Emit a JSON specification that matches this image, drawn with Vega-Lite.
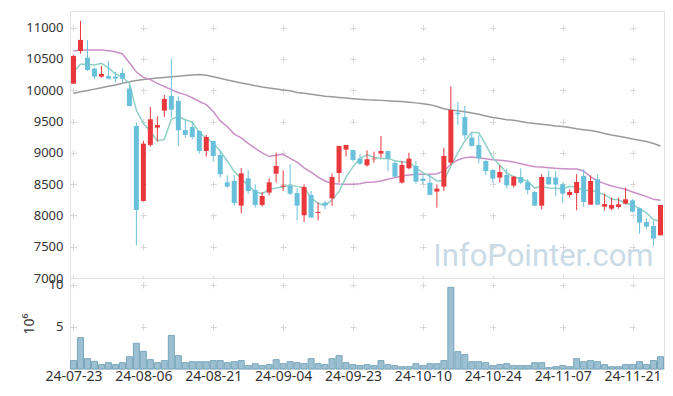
{
  "$schema": "https://vega.github.io/schema/vega-lite/v6.json",
  "padding": {"left": 21, "top": 10, "right": 10, "bottom": 2},
  "spacing": 0,
  "bounds": "flush",
  "background": "white",
  "config": {
    "view": {"stroke": "#e2e2e2", "strokeWidth": 1},
    "font": "Noto Sans",
    "axis": {"labelFont": "Noto Sans", "labelColor": "#333333", "titleFont": "Noto Sans", "titleColor": "#333333", "domain": false, "ticks": false, "gridColor": "#d8d8d8", "gridWidth": 1},
    "axisY": {"values": [7000,7500,8000,8500,9000,9500,10000,10500,11000], "format": "d", "labelFontSize": 13, "labelPadding": 7, "grid": true, "gridDash": [6, 63.88], "gridDashOffset": 69.39, "title": null},
    "scale": {"zero": false}
  },
  "data": {"values": [
    {"d":"24-07-23","o":10105,"h":10560,"l":10100,"c":10548,"v":1.0,"m5":10292,"m20":10628,"m120":9951},
    {"d":"24-07-24","o":10628,"h":11107,"l":10585,"c":10804,"v":3.73,"m5":10415,"m20":10644,"m120":9975},
    {"d":"24-07-25","o":10521,"h":10798,"l":10308,"c":10324,"v":1.23,"m5":10415,"m20":10644,"m120":9995},
    {"d":"24-07-26","o":10345,"h":10360,"l":10175,"c":10218,"v":0.91,"m5":10404,"m20":10644,"m120":10018},
    {"d":"24-07-29","o":10218,"h":10388,"l":10202,"c":10260,"v":0.52,"m5":10431,"m20":10644,"m120":10040},
    {"d":"24-07-30","o":10228,"h":10468,"l":10175,"c":10186,"v":0.75,"m5":10358,"m20":10630,"m120":10062},
    {"d":"24-07-31","o":10218,"h":10297,"l":10122,"c":10186,"v":0.52,"m5":10260,"m20":10615,"m120":10085},
    {"d":"24-08-01","o":10276,"h":10351,"l":10122,"c":10186,"v":0.75,"m5":10207,"m20":10580,"m120":10110},
    {"d":"24-08-02","o":10026,"h":10084,"l":9738,"c":9749,"v":1.46,"m5":10113,"m20":10440,"m120":10135},
    {"d":"24-08-05","o":9429,"h":9482,"l":7522,"c":8087,"v":3.06,"m5":9679,"m20":10290,"m120":10155},
    {"d":"24-08-06","o":8231,"h":9190,"l":8220,"c":9147,"v":2.1,"m5":9471,"m20":10205,"m120":10172},
    {"d":"24-08-07","o":9126,"h":9733,"l":9099,"c":9536,"v":1.11,"m5":9341,"m20":10170,"m120":10185},
    {"d":"24-08-08","o":9403,"h":9584,"l":9179,"c":9445,"v":0.75,"m5":9193,"m20":10110,"m120":10195},
    {"d":"24-08-09","o":9674,"h":9925,"l":9573,"c":9861,"v":1.0,"m5":9215,"m20":10060,"m120":10205},
    {"d":"24-08-12","o":9909,"h":10495,"l":9562,"c":9690,"v":4.0,"m5":9536,"m20":10010,"m120":10215},
    {"d":"24-08-13","o":9829,"h":9903,"l":9110,"c":9360,"v":1.59,"m5":9578,"m20":9960,"m120":10225},
    {"d":"24-08-14","o":9365,"h":9520,"l":9243,"c":9285,"v":0.75,"m5":9528,"m20":9930,"m120":10235},
    {"d":"24-08-16","o":9413,"h":9498,"l":9216,"c":9253,"v":0.87,"m5":9490,"m20":9880,"m120":10245},
    {"d":"24-08-19","o":9349,"h":9360,"l":8987,"c":9030,"v":0.87,"m5":9324,"m20":9820,"m120":10252},
    {"d":"24-08-20","o":9030,"h":9285,"l":8939,"c":9253,"v":0.87,"m5":9236,"m20":9770,"m120":10240},
    {"d":"24-08-21","o":9189,"h":9195,"l":8859,"c":8950,"v":1.0,"m5":9154,"m20":9660,"m120":10215},
    {"d":"24-08-22","o":8966,"h":9030,"l":8604,"c":8657,"v":1.0,"m5":9029,"m20":9510,"m120":10190},
    {"d":"24-08-23","o":8529,"h":8641,"l":8444,"c":8460,"v":0.75,"m5":8870,"m20":9420,"m120":10165},
    {"d":"24-08-26","o":8550,"h":8641,"l":8156,"c":8199,"v":0.87,"m5":8704,"m20":9300,"m120":10140},
    {"d":"24-08-27","o":8156,"h":8753,"l":8033,"c":8673,"v":1.0,"m5":8588,"m20":9240,"m120":10115},
    {"d":"24-08-28","o":8593,"h":8721,"l":8348,"c":8390,"v":0.4,"m5":8476,"m20":9150,"m120":10095},
    {"d":"24-08-29","o":8406,"h":8497,"l":8124,"c":8167,"v":0.63,"m5":8378,"m20":9070,"m120":10070},
    {"d":"24-08-30","o":8167,"h":8374,"l":8140,"c":8310,"v":0.4,"m5":8348,"m20":9000,"m120":10050},
    {"d":"24-09-02","o":8364,"h":8593,"l":8321,"c":8529,"v":0.52,"m5":8414,"m20":8940,"m120":10035},
    {"d":"24-09-03","o":8667,"h":9003,"l":8524,"c":8790,"v":1.11,"m5":8437,"m20":8960,"m120":10020},
    {"d":"24-09-04","o":8460,"h":8721,"l":8390,"c":8476,"v":0.63,"m5":8454,"m20":8976,"m120":10005},
    {"d":"24-09-05","o":8470,"h":8817,"l":8326,"c":8348,"v":0.87,"m5":8491,"m20":8910,"m120":9990},
    {"d":"24-09-06","o":8358,"h":8433,"l":7922,"c":8156,"v":0.75,"m5":8460,"m20":8850,"m120":9965},
    {"d":"24-09-09","o":8002,"h":8497,"l":7895,"c":8454,"v":0.63,"m5":8445,"m20":8760,"m120":9950},
    {"d":"24-09-10","o":8326,"h":8390,"l":7964,"c":7964,"v":1.23,"m5":8280,"m20":8690,"m120":9935},
    {"d":"24-09-11","o":8040,"h":8204,"l":7922,"c":8055,"v":0.63,"m5":8194,"m20":8610,"m120":9920},
    {"d":"24-09-12","o":8204,"h":8230,"l":8097,"c":8161,"v":0.52,"m5":8157,"m20":8550,"m120":9905},
    {"d":"24-09-13","o":8273,"h":8667,"l":8151,"c":8614,"v":1.23,"m5":8249,"m20":8510,"m120":9895},
    {"d":"24-09-19","o":8678,"h":9110,"l":8524,"c":9110,"v":1.59,"m5":8380,"m20":8500,"m120":9885},
    {"d":"24-09-20","o":9051,"h":9126,"l":8939,"c":9126,"v":0.75,"m5":8612,"m20":8497,"m120":9875},
    {"d":"24-09-23","o":9046,"h":9046,"l":8859,"c":8886,"v":0.52,"m5":8779,"m20":8497,"m120":9865},
    {"d":"24-09-24","o":8907,"h":8976,"l":8810,"c":8827,"v":0.4,"m5":8913,"m20":8505,"m120":9855},
    {"d":"24-09-25","o":8801,"h":9040,"l":8779,"c":8897,"v":0.52,"m5":8969,"m20":8530,"m120":9848},
    {"d":"24-09-26","o":8897,"h":9019,"l":8843,"c":8907,"v":0.4,"m5":8929,"m20":8534,"m120":9845},
    {"d":"24-09-27","o":8987,"h":9269,"l":8923,"c":9030,"v":1.0,"m5":8909,"m20":8550,"m120":9838},
    {"d":"24-09-30","o":9030,"h":9030,"l":8710,"c":8907,"v":0.52,"m5":8914,"m20":8577,"m120":9832},
    {"d":"24-10-02","o":8838,"h":8870,"l":8610,"c":8619,"v":0.4,"m5":8872,"m20":8604,"m120":9825},
    {"d":"24-10-04","o":8524,"h":8870,"l":8510,"c":8806,"v":0.27,"m5":8854,"m20":8630,"m120":9820},
    {"d":"24-10-07","o":8753,"h":9003,"l":8737,"c":8907,"v":0.27,"m5":8854,"m20":8646,"m120":9810},
    {"d":"24-10-08","o":8790,"h":8870,"l":8508,"c":8540,"v":0.63,"m5":8756,"m20":8657,"m120":9798},
    {"d":"24-10-10","o":8588,"h":8657,"l":8497,"c":8550,"v":0.4,"m5":8684,"m20":8657,"m120":9785},
    {"d":"24-10-11","o":8524,"h":8646,"l":8320,"c":8327,"v":0.63,"m5":8626,"m20":8657,"m120":9770},
    {"d":"24-10-14","o":8380,"h":8497,"l":8124,"c":8428,"v":0.63,"m5":8550,"m20":8667,"m120":9740},
    {"d":"24-10-15","o":8460,"h":9083,"l":8390,"c":8950,"v":1.0,"m5":8559,"m20":8710,"m120":9705},
    {"d":"24-10-16","o":8843,"h":10058,"l":8806,"c":9685,"v":9.72,"m5":8788,"m20":8817,"m120":9685},
    {"d":"24-10-17","o":9642,"h":9818,"l":9445,"c":9616,"v":2.06,"m5":9001,"m20":8886,"m120":9673},
    {"d":"24-10-18","o":9573,"h":9749,"l":9216,"c":9280,"v":1.71,"m5":9192,"m20":8923,"m120":9655},
    {"d":"24-10-21","o":9243,"h":9323,"l":9100,"c":9110,"v":0.87,"m5":9328,"m20":8934,"m120":9635},
    {"d":"24-10-22","o":9126,"h":9286,"l":8832,"c":8912,"v":0.87,"m5":9321,"m20":8923,"m120":9616},
    {"d":"24-10-23","o":8870,"h":8880,"l":8646,"c":8710,"v":0.75,"m5":9126,"m20":8907,"m120":9590},
    {"d":"24-10-24","o":8726,"h":8740,"l":8524,"c":8588,"v":0.4,"m5":8920,"m20":8891,"m120":9565},
    {"d":"24-10-25","o":8604,"h":8801,"l":8524,"c":8694,"v":0.52,"m5":8803,"m20":8880,"m120":9550},
    {"d":"24-10-28","o":8646,"h":8747,"l":8433,"c":8481,"v":0.63,"m5":8677,"m20":8870,"m120":9530},
    {"d":"24-10-29","o":8476,"h":8625,"l":8444,"c":8620,"v":0.4,"m5":8619,"m20":8854,"m120":9520},
    {"d":"24-10-30","o":8614,"h":8753,"l":8497,"c":8524,"v":0.4,"m5":8581,"m20":8827,"m120":9500},
    {"d":"24-10-31","o":8534,"h":8577,"l":8337,"c":8406,"v":0.4,"m5":8545,"m20":8801,"m120":9480},
    {"d":"24-11-01","o":8374,"h":8390,"l":8150,"c":8156,"v":0.75,"m5":8437,"m20":8779,"m120":9470},
    {"d":"24-11-04","o":8156,"h":8657,"l":8097,"c":8614,"v":0.75,"m5":8464,"m20":8774,"m120":9458},
    {"d":"24-11-05","o":8614,"h":8710,"l":8486,"c":8497,"v":0.16,"m5":8439,"m20":8763,"m120":9445},
    {"d":"24-11-06","o":8604,"h":8710,"l":8310,"c":8492,"v":0.27,"m5":8433,"m20":8753,"m120":9430},
    {"d":"24-11-07","o":8497,"h":8524,"l":8204,"c":8348,"v":0.4,"m5":8421,"m20":8747,"m120":9420},
    {"d":"24-11-08","o":8326,"h":8417,"l":8284,"c":8374,"v":0.27,"m5":8465,"m20":8742,"m120":9405},
    {"d":"24-11-11","o":8358,"h":8657,"l":8081,"c":8534,"v":1.23,"m5":8449,"m20":8742,"m120":9385},
    {"d":"24-11-12","o":8630,"h":8737,"l":8135,"c":8215,"v":0.87,"m5":8393,"m20":8710,"m120":9370},
    {"d":"24-11-13","o":8172,"h":8641,"l":8172,"c":8550,"v":1.0,"m5":8404,"m20":8614,"m120":9355},
    {"d":"24-11-14","o":8577,"h":8657,"l":8165,"c":8172,"v":0.87,"m5":8369,"m20":8550,"m120":9335},
    {"d":"24-11-15","o":8140,"h":8348,"l":8081,"c":8183,"v":0.52,"m5":8331,"m20":8508,"m120":9310},
    {"d":"24-11-18","o":8108,"h":8284,"l":8081,"c":8167,"v":0.27,"m5":8257,"m20":8470,"m120":9285},
    {"d":"24-11-19","o":8135,"h":8284,"l":8108,"c":8177,"v":0.27,"m5":8250,"m20":8444,"m120":9265},
    {"d":"24-11-20","o":8188,"h":8444,"l":8177,"c":8257,"v":0.52,"m5":8191,"m20":8417,"m120":9245},
    {"d":"24-11-21","o":8241,"h":8257,"l":8050,"c":8060,"v":0.52,"m5":8169,"m20":8374,"m120":9220},
    {"d":"24-11-22","o":8113,"h":8124,"l":7709,"c":7884,"v":0.87,"m5":8109,"m20":8337,"m120":9200},
    {"d":"24-11-25","o":7895,"h":7954,"l":7778,"c":7820,"v":0.52,"m5":8040,"m20":8300,"m120":9180},
    {"d":"24-11-26","o":7831,"h":7911,"l":7511,"c":7629,"v":1.0,"m5":7930,"m20":8257,"m120":9150},
    {"d":"24-11-27","o":7682,"h":8167,"l":7682,"c":8167,"v":1.46,"m5":7912,"m20":8241,"m120":9110}
  ]},
  "vconcat": [
    {
      "width": 594,
      "height": 267,
      "encoding": {
        "x": {"field": "d", "type": "ordinal", "scale": {"type": "point", "padding": 0.5},
          "axis": {"title": null, "labels": false, "minExtent": 0, "maxExtent": 0, "grid": true, "gridDash": [6, 25.294], "gridDashOffset": 17.64,
            "values": ["24-07-23","24-08-06","24-08-21","24-09-04","24-09-23","24-10-10","24-10-24","24-11-07","24-11-21"]}}
      },
      "layer": [
        {
          "data": {"values": [{"label": "InfoPointer.com", "d": "24-11-26", "p": 7190}]},
          "mark": {"type": "text", "font": "Roboto", "fontSize": 31, "color": "#cadbe6", "align": "right", "baseline": "alphabetic"},
          "encoding": {
            "text": {"field": "label"},
            "y": {"field": "p", "type": "quantitative", "scale": {"domain": [7000, 11266], "nice": false}, "title": null}
          }
        },
        {
          "mark": {"type": "line", "color": "#9a9a9a", "strokeWidth": 1.5},
          "encoding": {"y": {"field": "m120", "type": "quantitative", "scale": {"domain": [7000, 11266], "nice": false}, "title": null}}
        },
        {
          "mark": {"type": "line", "color": "#cb8fc8", "strokeWidth": 1.5},
          "encoding": {"y": {"field": "m20", "type": "quantitative", "scale": {"domain": [7000, 11266], "nice": false}, "title": null}}
        },
        {
          "mark": {"type": "line", "color": "#8fd0c6", "strokeWidth": 1.5},
          "encoding": {"y": {"field": "m5", "type": "quantitative", "scale": {"domain": [7000, 11266], "nice": false}, "title": null}}
        },
        {
          "mark": {"type": "rule", "strokeWidth": 1},
          "encoding": {
            "y": {"field": "l", "type": "quantitative", "scale": {"domain": [7000, 11266], "nice": false}, "title": null},
            "y2": {"field": "h"},
            "color": {"condition": {"test": "datum.c >= datum.o", "value": "#e9373c"}, "value": "#69c0da"}
          }
        },
        {
          "mark": {"type": "bar", "size": 5},
          "encoding": {
            "y": {"field": "o", "type": "quantitative", "scale": {"domain": [7000, 11266], "nice": false}, "title": null},
            "y2": {"field": "c"},
            "color": {"condition": {"test": "datum.c >= datum.o", "value": "#e9373c"}, "value": "#69c0da"}
          }
        }
      ]
    },
    {
      "width": 594,
      "height": 91,
      "mark": {"type": "bar", "size": 6, "fill": "#9cc0d2", "stroke": "#78a6bb", "strokeWidth": 1},
      "encoding": {
        "x": {"field": "d", "type": "ordinal", "scale": {"type": "point", "padding": 0.5},
          "axis": {"title": null, "labelAngle": 0, "labelFontSize": 14, "labelPadding": 0, "grid": true, "gridDash": [6, 36], "gridDashOffset": 38,
            "values": ["24-07-23","24-08-06","24-08-21","24-09-04","24-09-23","24-10-10","24-10-24","24-11-07","24-11-21"]}},
        "y": {"field": "v", "type": "quantitative", "scale": {"domain": [0, 10.83], "nice": false},
          "axis": {"values": [5, 10], "title": "10⁶", "titleFontSize": 14, "titleFontWeight": "normal", "labelFontSize": 13, "labelPadding": 7, "titlePadding": 12,
            "grid": true, "gridDash": [6, 63.88], "gridDashOffset": 69.39}}
      }
    }
  ]
}
